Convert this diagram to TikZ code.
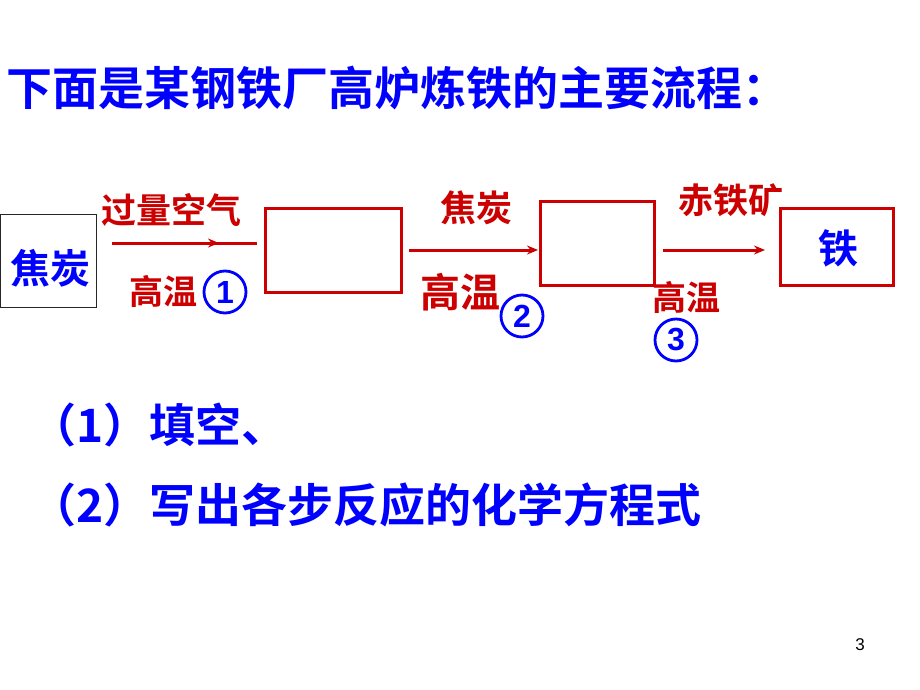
\documentclass[tikz,border=0pt]{standalone}
\usepackage{fontspec}
\setmainfont{Liberation Sans}
\newfontfamily\cjk{Noto Sans CJK SC}[BoldFont={Noto Sans CJK SC Bold}]
\usetikzlibrary{arrows.meta,decorations.markings}
\definecolor{myred}{RGB}{204,0,0}
\definecolor{myblue}{RGB}{0,0,255}
\newcommand{\fs}[1]{\fontsize{#1pt}{#1pt}\selectfont}
\begin{document}
\begin{tikzpicture}[x=1pt,y=-1pt,
  lbl/.style={inner sep=0pt,text=myred,font=\cjk\bfseries\fs{35}},
  num/.style={circle,draw=myblue,line width=2.8pt,minimum size=42pt,inner sep=0pt,text=myblue,font=\bfseries\fs{32}},
  boxr/.style={draw=myred,line width=3pt,inner sep=0pt},
  arr/.style={draw=myred,line width=3pt,-{Stealth[length=11pt,width=9pt]}},
  bluetxt/.style={inner sep=0pt,text=myblue,font=\cjk\bfseries\fs{40}}]
\useasboundingbox (0,0) rectangle (920,690);
\fill[white] (0,0) rectangle (920,690);
% title
\node[inner sep=0pt,anchor=west,text=myblue,font=\cjk\bfseries\fs{46}] (title) at (6,88) {下面是某钢铁厂高炉炼铁的主要流程：};
% boxes
\node[draw=black!85,line width=1.5pt,minimum width=96pt,minimum height=93pt,inner sep=0pt] (box1) at (48.5,261) {};
\node[bluetxt] (t1) at (50,268) {焦炭};
\node[boxr,minimum width=136pt,minimum height=84pt] (box2) at (333.5,250.5) {};
\node[boxr,minimum width=114pt,minimum height=84pt] (box3) at (597.5,243.5) {};
\node[boxr,minimum width=113pt,minimum height=77pt] (box4) at (837,247) {};
\node[bluetxt] (t4) at (838,248) {铁};
% arrows
\draw[draw=myred,line width=3pt,shorten <=15pt,shorten >=7pt,
  postaction={decorate},
  decoration={markings,mark=at position 0.73 with {\arrow{Stealth[length=11pt,width=9pt]}}}]
  (box1.east |- 0,243) -- (box2.west |- 0,243);
\draw[arr,shorten <=6pt,shorten >=1pt] (box2.east |- 0,250) -- (box3.west |- 0,250);
\draw[arr,shorten <=7pt,shorten >=14pt] (box3.east |- 0,250) -- (box4.west |- 0,250);
% labels
\node[lbl] (l1) at (171,210) {过量空气};
\node[lbl,font=\cjk\bfseries\fs{34}] (l2) at (163,291) {高温};
\node[num] (c1) at (225,292) {1};
\node[lbl,font=\cjk\bfseries\fs{36}] (l3) at (476,208) {焦炭};
\node[lbl,font=\cjk\bfseries\fs{40}] (l4) at (460,292) {高温};
\node[num] (c2) at (522,316) {2};
\node[lbl] (l5) at (731,200) {赤铁矿};
\node[lbl,font=\cjk\bfseries\fs{34}] (l6) at (686,297) {高温};
\node[num] (c3) at (676,340) {3};
% questions
\node[inner sep=0pt,anchor=west,text=myblue,font=\cjk\bfseries\fs{46}] (q1) at (30,425) {（1）填空、};
\node[inner sep=0pt,anchor=west,text=myblue,font=\cjk\bfseries\fs{46}] (q2) at (30,505) {（2）写出各步反应的化学方程式};
% page number
\node[inner sep=0pt,font=\fs{17}] (pg) at (860,645) {3};
\end{tikzpicture}
\end{document}
